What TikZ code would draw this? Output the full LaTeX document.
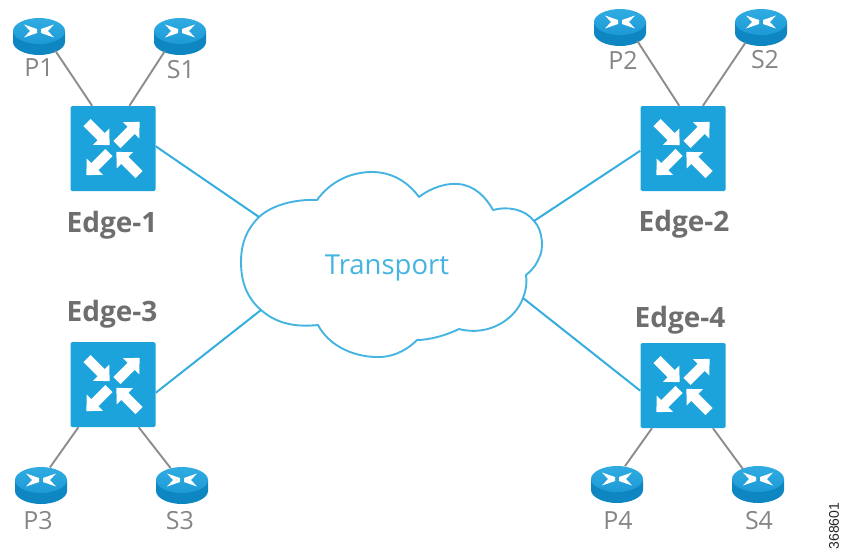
\documentclass[tikz,border=0pt]{standalone}
\usepackage{fontspec}
\usetikzlibrary{shapes.geometric}
\setmainfont{Open Sans}
\newfontfamily\idfont{Liberation Sans}
\definecolor{swblue}{HTML}{1CA3DC}
\definecolor{cloudblue}{HTML}{45B4E1}
\definecolor{linkblue}{HTML}{35AEDF}
\definecolor{rtop}{HTML}{30ACE2}
\definecolor{rtopb}{HTML}{1D9AD6}
\definecolor{rside}{HTML}{0E86C2}
\definecolor{grayline}{HTML}{8C8C8C}
\definecolor{lblgray}{HTML}{858585}
\definecolor{edgegray}{HTML}{6E6E70}
\tikzset{
  swnode/.style={rectangle,fill=swblue,minimum width=85pt,minimum height=85pt,inner sep=0pt,rounded corners=1.5pt},
  rtnode/.style={ellipse,minimum width=52pt,minimum height=37pt,inner sep=0pt},
  leaflabel/.style={text=lblgray,font=\fontsize{25}{27}\selectfont,inner sep=0pt},
  edgelabel/.style={text=edgegray,font=\fontsize{28}{30}\selectfont\bfseries,inner sep=0pt},
  graylink/.style={draw=grayline,line width=1.9pt},
  bluelink/.style={draw=linkblue,line width=2pt},
  swarrow/.pic={\fill[white] (0,-5)--(20,-5)--(20,-11.5)--(32,0)--(20,11.5)--(20,5)--(0,5)--cycle;},
  swicon/.pic={
    \pic[rotate=-45] at (-26,-26) {swarrow};
    \pic[rotate=45] at (4,-4) {swarrow};
    \pic[rotate=-135] at (-4,4) {swarrow};
    \pic[rotate=135] at (26,26) {swarrow};
  },
  rticon/.pic={
    \fill[rside] (-26,-5) -- (-26,6) .. controls (-26,13) and (-14,19) .. (0,19) .. controls (14,19) and (26,13) .. (26,6) -- (26,-5) -- cycle;
    \shade[top color=rtop,bottom color=rtopb] (-26,-5) .. controls (-26,-12) and (-14,-18) .. (0,-18) .. controls (14,-18) and (26,-12) .. (26,-5) .. controls (26,2) and (14,8) .. (0,8) .. controls (-14,8) and (-26,2) .. (-26,-5) -- cycle;
    \fill[white] (-15,-11.5)--(-2,-7)--(-2,-3)--(-15,1.5)--(-9,-5)--cycle;
    \fill[white] (15,-11.5)--(2,-7)--(2,-3)--(15,1.5)--(9,-5)--cycle;
  }
}
\begin{document}
\begin{tikzpicture}[x=1pt,y=-1pt]
\useasboundingbox (0,0) rectangle (842,554);
% routers
\foreach \n/\x/\y in {p1/39/36,s1/180/36,p2/620/27,s2/761/27,p3/41/485,s3/182/485,p4/617/484,s4/758/484}{
  \node[rtnode] (\n) at (\x,\y) {};
  \pic at (\x,\y) {rticon};
}
% switches
\foreach \n/\x/\y in {e1/113/148.5,e2/683/148.5,e3/113/384.5,e4/683/385.5}{
  \node[swnode] (\n) at (\x,\y) {};
  \pic at (\x,\y) {swicon};
}
% cloud
\coordinate (c1) at (259,217);
\coordinate (c2) at (534,221);
\coordinate (c3) at (261,310);
\coordinate (c4) at (523,298);
\draw[draw=cloudblue,line width=1.9pt,line join=round,fill=white]
  (c1) .. controls (272,205) and (295,199) .. (317,200)
  .. controls (330,182) and (350,172) .. (372,172)
  .. controls (392,172) and (408,182) .. (419,197)
  .. controls (432,187) and (447,183) .. (458,184)
  .. controls (474,185) and (486,197) .. (493,210)
  .. controls (507,206) and (525,209) .. (534,221)
  .. controls (543,230) and (544,250) .. (539,258)
  .. controls (536,266) and (530,272) .. (526,275)
  .. controls (527,283) and (526,291) .. (523,298)
  .. controls (516,318) and (490,337) .. (459,329)
  .. controls (447,335) and (430,340) .. (417,340)
  .. controls (405,352) and (390,358) .. (375,357)
  .. controls (350,356) and (328,344) .. (318,325)
  .. controls (298,327) and (278,325) .. (261,310)
  .. controls (247,298) and (241,282) .. (241,262)
  .. controls (241,243) and (247,229) .. (c1) -- cycle;
\node[inner sep=0pt,text=cloudblue,font=\fontsize{27.5}{29}\selectfont] (transport) at (387,268) {Transport};
% links
\draw[graylink] (p1.-42) -- (e1.116);
\draw[graylink] (s1.-135) -- (e1.69);
\draw[graylink] (p2.-39) -- (e2.95);
\draw[graylink] (s2.-135) -- (e2.65);
\draw[graylink] (p3.63) -- (e3.-129.5);
\draw[graylink] (s3.124) -- (e3.-59.5);
\draw[graylink] (p4.66) -- (e4.-126);
\draw[graylink] (s4.135) -- (e4.-55);
\draw[bluelink] (e1.3) -- (c1);
\draw[bluelink] (e2.183) -- (c2);
\draw[bluelink] (e3.-11) -- (c3);
\draw[bluelink] (e4.-173) -- (c4);
% labels
\node[leaflabel] (lp1) at (39,68) {P1};
\node[leaflabel] (ls1) at (181,70) {S1};
\node[leaflabel] (lp2) at (623,60) {P2};
\node[leaflabel] (ls2) at (765,60) {S2};
\node[leaflabel] (lp3) at (38,521) {P3};
\node[leaflabel] (ls3) at (180,521) {S3};
\node[leaflabel] (lp4) at (618,521) {P4};
\node[leaflabel] (ls4) at (759,521) {S4};
\node[edgelabel] (le1) at (112,225) {Edge-1};
\node[edgelabel] (le2) at (684,224) {Edge-2};
\node[edgelabel] (le3) at (112,314) {Edge-3};
\node[edgelabel] (le4) at (680,320) {Edge-4};
\node[rotate=90,inner sep=0pt,font=\idfont\fontsize{14}{16}\selectfont,text=black!85] (docid) at (834,526) {368601};
\end{tikzpicture}
\end{document}
